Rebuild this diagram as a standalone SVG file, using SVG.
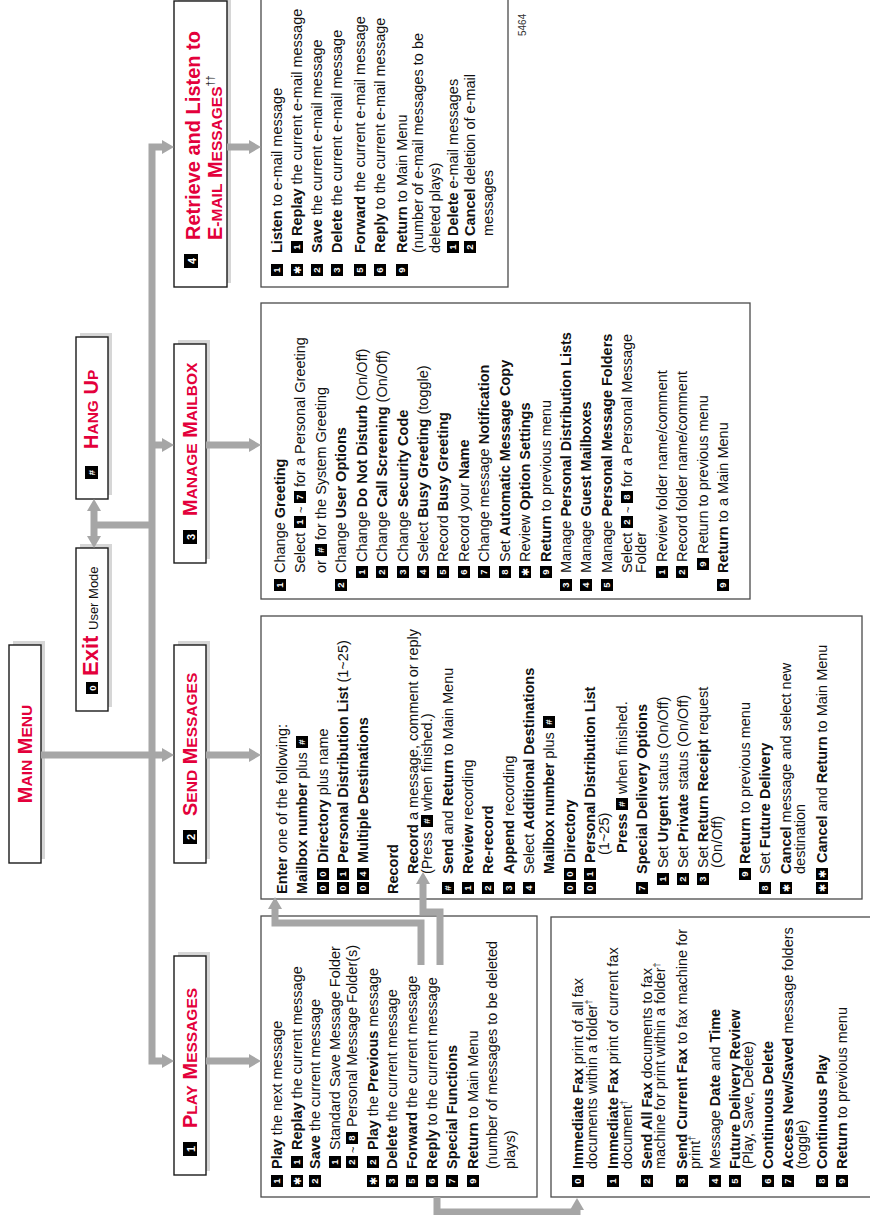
<svg xmlns="http://www.w3.org/2000/svg" width="870" height="1215" viewBox="0 0 870 1215">
<defs>
<style>
.c{font-family:"Liberation Sans",Arial,Helvetica,sans-serif;font-size:14.5px;fill:#111}
.b{font-weight:bold}
.k{fill:#000}
.w{font-family:"Liberation Sans",Arial,sans-serif;font-size:9.5px;font-weight:bold;fill:#fff;text-anchor:middle}
.st{font-family:"DejaVu Sans",sans-serif;font-size:10px;font-weight:bold;fill:#fff;text-anchor:middle}
.hw{font-family:"Liberation Sans",Arial,sans-serif;font-size:11px;font-weight:bold;fill:#fff;text-anchor:middle}
.h{font-family:"Liberation Sans",Arial,sans-serif;font-weight:bold;fill:#e3003b;font-size:20px}
.s{font-size:15.5px}
.hb{fill:#fff;stroke:#1a1a1a;stroke-width:1.4}
.sh{fill:#d6d6d6}
.cb{fill:#fff;stroke:#4a4a4a;stroke-width:1.3}
.cn{fill:none;stroke:#a6a6a6;stroke-width:7;marker-end:url(#ah)}
.cl{fill:none;stroke:#a6a6a6;stroke-width:7}
.sup{font-size:9px}
.tl{font-size:11px}
</style>
<marker id="ah" markerUnits="userSpaceOnUse" markerWidth="12" markerHeight="14" viewBox="0 0 12 14" refX="0" refY="7" orient="auto-start-reverse"><path d="M0,0L12,7L0,14z" fill="#a6a6a6"/></marker>
</defs>
<rect width="870" height="1215" fill="#fff"/>
<g transform="matrix(0,-1,1,0,0,1215)">

<g id="main-menu">
<rect class="sh" x="356" y="13" width="218" height="32"/>
<rect class="hb" x="352" y="9" width="218" height="32"/>
<text class="h" x="461" y="32" text-anchor="middle">M<tspan class="s">AIN</tspan> M<tspan class="s">ENU</tspan></text>
</g>

<g id="exit-user-mode">
<rect class="sh" x="508" y="80" width="163" height="32"/>
<rect class="hb" x="504" y="76" width="163" height="32"/>
<rect class="k" x="521" y="86" width="12" height="12"/><text class="w" x="527" y="95.5">0</text>
<text class="h" x="539" y="98" style="font-size:22px">Exit</text>
<text class="c" x="585" y="98" style="font-size:13px">User Mode</text>
</g>

<g id="hang-up">
<rect class="sh" x="720" y="80" width="162" height="32"/>
<rect class="hb" x="716" y="76" width="162" height="32"/>
<rect class="k" x="736" y="85" width="13" height="13"/><text class="w" x="742.5" y="95">#</text>
<text class="h" x="766" y="98">H<tspan class="s">ANG</tspan> U<tspan class="s">P</tspan></text>
</g>

<g id="play-messages">
<rect class="sh" x="44" y="178" width="219" height="32"/>
<rect class="hb" x="40" y="174" width="219" height="32"/>
<rect class="k" x="59" y="183" width="14" height="14"/><text class="hw" x="66" y="194.5">1</text>
<text class="h" x="87" y="197">P<tspan class="s">LAY</tspan> M<tspan class="s">ESSAGES</tspan></text>
</g>

<g id="send-messages">
<rect class="sh" x="356" y="178" width="218" height="32"/>
<rect class="hb" x="352" y="174" width="218" height="32"/>
<rect class="k" x="371" y="183" width="14" height="14"/><text class="hw" x="378" y="194.5">2</text>
<text class="h" x="399" y="197">S<tspan class="s">END</tspan> M<tspan class="s">ESSAGES</tspan></text>
</g>

<g id="manage-mailbox">
<rect class="sh" x="656" y="178" width="219" height="32"/>
<rect class="hb" x="652" y="174" width="219" height="32"/>
<rect class="k" x="671" y="183" width="14" height="14"/><text class="hw" x="678" y="194.5">3</text>
<text class="h" x="699" y="197">M<tspan class="s">ANAGE</tspan> M<tspan class="s">AILBOX</tspan></text>
</g>

<g id="email-messages">
<rect class="sh" x="932" y="178" width="286" height="53"/>
<rect class="hb" x="928" y="174" width="286" height="53"/>
<rect class="k" x="947" y="184" width="14" height="14"/><text class="hw" x="954" y="195.5">4</text>
<text class="h" x="975" y="200">Retrieve and Listen to</text>
<text class="h" x="975" y="222">E<tspan class="s">-MAIL</tspan> M<tspan class="s">ESSAGES</tspan><tspan dy="-8" style="fill:#222;font-size:10px;font-weight:normal">††</tspan></text>
</g>

<g id="play-menu">
<rect class="cb" x="18" y="261" width="281" height="276"/>
<rect class="k" x="28" y="271" width="12" height="12"/><text class="w" x="34" y="280.4">1</text>
<text class="c" x="46" y="282"><tspan class="b">Play</tspan> the next message</text>
<rect class="k" x="28" y="291" width="12" height="12"/><text class="st" x="34" y="301">✱</text>
<rect class="k" x="47" y="291" width="12" height="12"/><text class="w" x="53" y="300.4">1</text>
<text class="c" x="65" y="302"><tspan class="b">Replay</tspan> the current message</text>
<rect class="k" x="28" y="309" width="12" height="12"/><text class="w" x="34" y="318.4">2</text>
<text class="c" x="46" y="320"><tspan class="b">Save</tspan> the current message</text>
<rect class="k" x="47" y="329" width="12" height="12"/><text class="w" x="53" y="338.4">1</text>
<text class="c" x="65" y="340">Standard Save Message Folder</text>
<rect class="k" x="47" y="346" width="12" height="12"/><text class="w" x="53" y="355.4">2</text>
<text class="c tl" x="62" y="357">~</text>
<rect class="k" x="71" y="346" width="12" height="12"/><text class="w" x="77" y="355.4">8</text>
<text class="c" x="88" y="357">Personal Message Folder(s)</text>
<rect class="k" x="28" y="367" width="12" height="12"/><text class="st" x="34" y="377">✱</text>
<rect class="k" x="47" y="367" width="12" height="12"/><text class="w" x="53" y="376.4">2</text>
<text class="c" x="65" y="378"><tspan class="b">Play</tspan> the <tspan class="b">Previous</tspan> message</text>
<rect class="k" x="28" y="386" width="12" height="12"/><text class="w" x="34" y="395.4">3</text>
<text class="c" x="46" y="397"><tspan class="b">Delete</tspan> the current message</text>
<rect class="k" x="28" y="406" width="12" height="12"/><text class="w" x="34" y="415.4">5</text>
<text class="c" x="46" y="417"><tspan class="b">Forward</tspan> the current message</text>
<rect class="k" x="28" y="426" width="12" height="12"/><text class="w" x="34" y="435.4">6</text>
<text class="c" x="46" y="437"><tspan class="b">Reply</tspan> to the current message</text>
<rect class="k" x="28" y="446" width="12" height="12"/><text class="w" x="34" y="455.4">7</text>
<text class="c b" x="46" y="457">Special Functions</text>
<rect class="k" x="28" y="467" width="12" height="12"/><text class="w" x="34" y="476.4">9</text>
<text class="c" x="46" y="478"><tspan class="b">Return</tspan> to Main Menu</text>
<text class="c" x="46" y="497">(number of messages to be deleted</text>
<text class="c" x="46" y="515">plays)</text>
</g>

<g id="special-functions">
<rect class="cb" x="18" y="551" width="280" height="325"/>
<rect class="k" x="28" y="572" width="12" height="12"/><text class="w" x="34" y="581.4">0</text>
<text class="c" x="46" y="583"><tspan class="b">Immediate Fax</tspan> print of all fax</text>
<text class="c" x="46" y="597">documents within a folder<tspan class="sup" dy="-5">†</tspan></text>
<rect class="k" x="28" y="607" width="12" height="12"/><text class="w" x="34" y="616.4">1</text>
<text class="c" x="46" y="618"><tspan class="b">Immediate Fax</tspan> print of current fax</text>
<text class="c" x="46" y="632">document<tspan class="sup" dy="-5">†</tspan></text>
<rect class="k" x="28" y="641" width="12" height="12"/><text class="w" x="34" y="650.4">2</text>
<text class="c" x="46" y="652"><tspan class="b">Send All Fax</tspan> documents to fax</text>
<text class="c" x="46" y="665">machine for print within a folder<tspan class="sup" dy="-5">†</tspan></text>
<rect class="k" x="28" y="676" width="12" height="12"/><text class="w" x="34" y="685.4">3</text>
<text class="c" x="46" y="687"><tspan class="b">Send Current Fax</tspan> to fax machine for</text>
<text class="c" x="46" y="700">print<tspan class="sup" dy="-5">†</tspan></text>
<rect class="k" x="28" y="709" width="12" height="12"/><text class="w" x="34" y="718.4">4</text>
<text class="c" x="46" y="720">Message <tspan class="b">Date</tspan> and <tspan class="b">Time</tspan></text>
<rect class="k" x="28" y="729" width="12" height="12"/><text class="w" x="34" y="738.4">5</text>
<text class="c b" x="46" y="740">Future Delivery Review</text>
<text class="c" x="46" y="753">(Play, Save, Delete)</text>
<rect class="k" x="28" y="762" width="12" height="12"/><text class="w" x="34" y="771.4">6</text>
<text class="c b" x="46" y="773">Continuous Delete</text>
<rect class="k" x="28" y="782" width="12" height="12"/><text class="w" x="34" y="791.4">7</text>
<text class="c" x="46" y="793"><tspan class="b">Access New/Saved</tspan> message folders</text>
<text class="c" x="46" y="807">(toggle)</text>
<rect class="k" x="28" y="816" width="12" height="12"/><text class="w" x="34" y="825.4">8</text>
<text class="c b" x="46" y="827">Continuous Play</text>
<rect class="k" x="28" y="836" width="12" height="12"/><text class="w" x="34" y="845.4">9</text>
<text class="c" x="46" y="847"><tspan class="b">Return</tspan> to previous menu</text>
</g>

<g id="send-menu">
<rect class="cb" x="316" y="261" width="283" height="601"/>
<text class="c" x="321" y="287"><tspan class="b">Enter</tspan> one of the following:</text>
<text class="c" x="321" y="307"><tspan class="b">Mailbox number</tspan> plus</text>
<rect class="k" x="467" y="296" width="12" height="12"/><text class="w" x="473" y="305.4">#</text>
<rect class="k" x="321" y="317" width="12" height="12"/><text class="w" x="327" y="326.4">0</text>
<rect class="k" x="335" y="317" width="12" height="12"/><text class="w" x="341" y="326.4">0</text>
<text class="c" x="352" y="328"><tspan class="b">Directory</tspan> plus name</text>
<rect class="k" x="321" y="337" width="12" height="12"/><text class="w" x="327" y="346.4">0</text>
<rect class="k" x="335" y="337" width="12" height="12"/><text class="w" x="341" y="346.4">1</text>
<text class="c" x="352" y="348"><tspan class="b">Personal Distribution List</tspan> (1~25)</text>
<rect class="k" x="321" y="357" width="12" height="12"/><text class="w" x="327" y="366.4">0</text>
<rect class="k" x="335" y="357" width="12" height="12"/><text class="w" x="341" y="366.4">4</text>
<text class="c b" x="352" y="368">Multiple Destinations</text>
<text class="c b" x="321" y="398">Record</text>
<text class="c" x="341" y="418"><tspan class="b">Record</tspan> a message, comment or reply</text>
<text class="c" x="341" y="432">(Press</text>
<rect class="k" x="388" y="421" width="12" height="12"/><text class="w" x="394" y="430.4">#</text>
<text class="c" x="404" y="432">when finished.)</text>
<rect class="k" x="321" y="442" width="12" height="12"/><text class="w" x="327" y="451.4">#</text>
<text class="c" x="341" y="453"><tspan class="b">Send</tspan> and <tspan class="b">Return</tspan> to Main Menu</text>
<rect class="k" x="321" y="462" width="12" height="12"/><text class="w" x="327" y="471.4">1</text>
<text class="c" x="341" y="473"><tspan class="b">Review</tspan> recording</text>
<rect class="k" x="321" y="482" width="12" height="12"/><text class="w" x="327" y="491.4">2</text>
<text class="c b" x="341" y="493">Re-record</text>
<rect class="k" x="321" y="503" width="12" height="12"/><text class="w" x="327" y="512.4">3</text>
<text class="c" x="341" y="514"><tspan class="b">Append</tspan> recording</text>
<rect class="k" x="321" y="523" width="12" height="12"/><text class="w" x="327" y="532.4">4</text>
<text class="c" x="341" y="534">Select <tspan class="b">Additional Destinations</tspan></text>
<text class="c" x="341" y="554"><tspan class="b">Mailbox number</tspan> plus</text>
<rect class="k" x="487" y="543" width="12" height="12"/><text class="w" x="493" y="552.4">#</text>
<rect class="k" x="321" y="564" width="12" height="12"/><text class="w" x="327" y="573.4">0</text>
<rect class="k" x="335" y="564" width="12" height="12"/><text class="w" x="341" y="573.4">0</text>
<text class="c b" x="352" y="575">Directory</text>
<rect class="k" x="321" y="584" width="12" height="12"/><text class="w" x="327" y="593.4">0</text>
<rect class="k" x="335" y="584" width="12" height="12"/><text class="w" x="341" y="593.4">1</text>
<text class="c b" x="352" y="595">Personal Distribution List</text>
<text class="c" x="360" y="609">(1~25)</text>
<text class="c b" x="362" y="627">Press</text>
<rect class="k" x="405" y="616" width="12" height="12"/><text class="w" x="411" y="625.4">#</text>
<text class="c" x="421" y="627">when finished.</text>
<rect class="k" x="321" y="636" width="12" height="12"/><text class="w" x="327" y="645.4">7</text>
<text class="c b" x="341" y="647">Special Delivery Options</text>
<rect class="k" x="330" y="657" width="12" height="12"/><text class="w" x="336" y="666.4">1</text>
<text class="c" x="347" y="668">Set <tspan class="b">Urgent</tspan> status (On/Off)</text>
<rect class="k" x="330" y="677" width="12" height="12"/><text class="w" x="336" y="686.4">2</text>
<text class="c" x="347" y="688">Set <tspan class="b">Private</tspan> status (On/Off)</text>
<rect class="k" x="330" y="697" width="12" height="12"/><text class="w" x="336" y="706.4">3</text>
<text class="c" x="347" y="708">Set <tspan class="b">Return Receipt</tspan> request</text>
<text class="c" x="347" y="722">(On/Off)</text>
<rect class="k" x="335" y="739" width="12" height="12"/><text class="w" x="341" y="748.4">9</text>
<text class="c" x="351" y="750"><tspan class="b">Return</tspan> to previous menu</text>
<rect class="k" x="321" y="759" width="12" height="12"/><text class="w" x="327" y="768.4">8</text>
<text class="c" x="341" y="770">Set <tspan class="b">Future Delivery</tspan></text>
<rect class="k" x="321" y="780" width="12" height="12"/><text class="st" x="327" y="790">✱</text>
<text class="c" x="341" y="791"><tspan class="b">Cancel</tspan> message and select new</text>
<text class="c" x="341" y="805">destination</text>
<rect class="k" x="321" y="816" width="12" height="12"/><text class="st" x="327" y="826">✱</text>
<rect class="k" x="335" y="816" width="12" height="12"/><text class="st" x="341" y="826">✱</text>
<text class="c" x="352" y="827"><tspan class="b">Cancel</tspan> and <tspan class="b">Return</tspan> to Main Menu</text>
</g>

<g id="mailbox-menu">
<rect class="cb" x="616" y="261" width="296" height="489"/>
<rect class="k" x="624" y="274" width="12" height="12"/><text class="w" x="630" y="283.4">1</text>
<text class="c" x="642" y="285">Change <tspan class="b">Greeting</tspan></text>
<text class="c" x="642" y="305">Select</text>
<rect class="k" x="687" y="294" width="12" height="12"/><text class="w" x="693" y="303.4">1</text>
<text class="c tl" x="702" y="305">~</text>
<rect class="k" x="712" y="294" width="12" height="12"/><text class="w" x="718" y="303.4">7</text>
<text class="c" x="728" y="305">for a Personal Greeting</text>
<text class="c" x="642" y="326">or</text>
<rect class="k" x="659" y="315" width="12" height="12"/><text class="w" x="665" y="324.4">#</text>
<text class="c" x="675" y="326">for the System Greeting</text>
<rect class="k" x="624" y="335" width="12" height="12"/><text class="w" x="630" y="344.4">2</text>
<text class="c" x="642" y="346">Change <tspan class="b">User Options</tspan></text>
<rect class="k" x="637" y="356" width="12" height="12"/><text class="w" x="643" y="365.4">1</text>
<text class="c" x="653" y="367">Change <tspan class="b">Do Not Disturb</tspan> (On/Off)</text>
<rect class="k" x="637" y="376" width="12" height="12"/><text class="w" x="643" y="385.4">2</text>
<text class="c" x="653" y="387">Change <tspan class="b">Call Screening</tspan> (On/Off)</text>
<rect class="k" x="637" y="397" width="12" height="12"/><text class="w" x="643" y="406.4">3</text>
<text class="c" x="653" y="408">Change <tspan class="b">Security Code</tspan></text>
<rect class="k" x="637" y="417" width="12" height="12"/><text class="w" x="643" y="426.4">4</text>
<text class="c" x="653" y="428">Select <tspan class="b">Busy Greeting</tspan> (toggle)</text>
<rect class="k" x="637" y="437" width="12" height="12"/><text class="w" x="643" y="446.4">5</text>
<text class="c" x="653" y="448">Record <tspan class="b">Busy Greeting</tspan></text>
<rect class="k" x="637" y="458" width="12" height="12"/><text class="w" x="643" y="467.4">6</text>
<text class="c" x="653" y="469">Record your <tspan class="b">Name</tspan></text>
<rect class="k" x="637" y="478" width="12" height="12"/><text class="w" x="643" y="487.4">7</text>
<text class="c" x="653" y="489">Change message <tspan class="b">Notification</tspan></text>
<rect class="k" x="637" y="499" width="12" height="12"/><text class="w" x="643" y="508.4">8</text>
<text class="c" x="653" y="510">Set <tspan class="b">Automatic Message Copy</tspan></text>
<rect class="k" x="637" y="519" width="12" height="12"/><text class="st" x="643" y="529">✱</text>
<text class="c" x="653" y="530">Review <tspan class="b">Option Settings</tspan></text>
<rect class="k" x="637" y="540" width="12" height="12"/><text class="w" x="643" y="549.4">9</text>
<text class="c" x="653" y="551"><tspan class="b">Return</tspan> to previous menu</text>
<rect class="k" x="624" y="560" width="12" height="12"/><text class="w" x="630" y="569.4">3</text>
<text class="c" x="642" y="571">Manage <tspan class="b">Personal Distribution Lists</tspan></text>
<rect class="k" x="624" y="580" width="12" height="12"/><text class="w" x="630" y="589.4">4</text>
<text class="c" x="642" y="591">Manage <tspan class="b">Guest Mailboxes</tspan></text>
<rect class="k" x="624" y="601" width="12" height="12"/><text class="w" x="630" y="610.4">5</text>
<text class="c" x="642" y="612">Manage <tspan class="b">Personal Message Folders</tspan></text>
<text class="c" x="642" y="632">Select</text>
<rect class="k" x="687" y="621" width="12" height="12"/><text class="w" x="693" y="630.4">2</text>
<text class="c tl" x="702" y="632">~</text>
<rect class="k" x="712" y="621" width="12" height="12"/><text class="w" x="718" y="630.4">8</text>
<text class="c" x="728" y="632">for a Personal Message</text>
<text class="c" x="642" y="646">Folder</text>
<rect class="k" x="637" y="656" width="12" height="12"/><text class="w" x="643" y="665.4">1</text>
<text class="c" x="653" y="667">Review folder name/comment</text>
<rect class="k" x="637" y="676" width="12" height="12"/><text class="w" x="643" y="685.4">2</text>
<text class="c" x="653" y="687">Record folder name/comment</text>
<rect class="k" x="645" y="697" width="12" height="12"/><text class="w" x="651" y="706.4">9</text>
<text class="c" x="661" y="708">Return to previous menu</text>
<rect class="k" x="624" y="717" width="12" height="12"/><text class="w" x="630" y="726.4">9</text>
<text class="c" x="642" y="728"><tspan class="b">Return</tspan> to a Main Menu</text>
</g>

<g id="email-menu">
<rect class="cb" x="928" y="261" width="300" height="247"/>
<rect class="k" x="939" y="271" width="12" height="12"/><text class="w" x="945" y="280.4">1</text>
<text class="c" x="962" y="282"><tspan class="b">Listen</tspan> to e-mail message</text>
<rect class="k" x="939" y="291" width="12" height="12"/><text class="st" x="945" y="301">✱</text>
<rect class="k" x="962" y="291" width="12" height="12"/><text class="w" x="968" y="300.4">1</text>
<text class="c" x="979" y="302"><tspan class="b">Replay</tspan> the current e-mail message</text>
<rect class="k" x="939" y="311" width="12" height="12"/><text class="w" x="945" y="320.4">2</text>
<text class="c" x="962" y="322"><tspan class="b">Save</tspan> the current e-mail message</text>
<rect class="k" x="939" y="331" width="12" height="12"/><text class="w" x="945" y="340.4">3</text>
<text class="c" x="962" y="342"><tspan class="b">Delete</tspan> the current e-mail message</text>
<rect class="k" x="939" y="354" width="12" height="12"/><text class="w" x="945" y="363.4">5</text>
<text class="c" x="962" y="365"><tspan class="b">Forward</tspan> the current e-mail message</text>
<rect class="k" x="939" y="374" width="12" height="12"/><text class="w" x="945" y="383.4">6</text>
<text class="c" x="962" y="385"><tspan class="b">Reply</tspan> to the current e-mail message</text>
<rect class="k" x="939" y="396" width="12" height="12"/><text class="w" x="945" y="405.4">9</text>
<text class="c" x="962" y="407"><tspan class="b">Return</tspan> to Main Menu</text>
<text class="c" x="962" y="423">(number of e-mail messages to be</text>
<text class="c" x="962" y="440">deleted plays)</text>
<rect class="k" x="962" y="447" width="12" height="12"/><text class="w" x="968" y="456.4">1</text>
<text class="c" x="979" y="458"><tspan class="b">Delete</tspan> e-mail messages</text>
<rect class="k" x="962" y="464" width="12" height="12"/><text class="w" x="968" y="473.4">2</text>
<text class="c" x="979" y="475"><tspan class="b">Cancel</tspan> deletion of e-mail</text>
<text class="c" x="979" y="493">messages</text>
</g>

<g id="figure-number">
<text x="1179" y="526" style="font-family:'Liberation Sans',Arial,sans-serif;font-size:10px;fill:#333">5464</text>
</g>

<g id="connectors">
<path class="cn" d="M154,162L154,152L1068,152L1068,162" marker-start="url(#ah)"/>
<path class="cn" d="M770,152L770,162"/>
<path class="cn" d="M460,41L460,162"/>
<path class="cn" d="M154,206L154,249"/>
<path class="cn" d="M460,206L460,249"/>
<path class="cn" d="M770,206L770,249"/>
<path class="cn" d="M1068,227L1068,249"/>
<path class="cn" d="M679,94L704,94" marker-start="url(#ah)"/>
<path class="cl" d="M690,94L690,152"/>
<path class="cn" d="M250,421L292,421L292,275L306,275"/>
<path class="cn" d="M250,440L303,440L303,423L331,423"/>
<path class="cn" d="M18,437L3,437L3,577L5,577"/>
</g>
</g>
</svg>
